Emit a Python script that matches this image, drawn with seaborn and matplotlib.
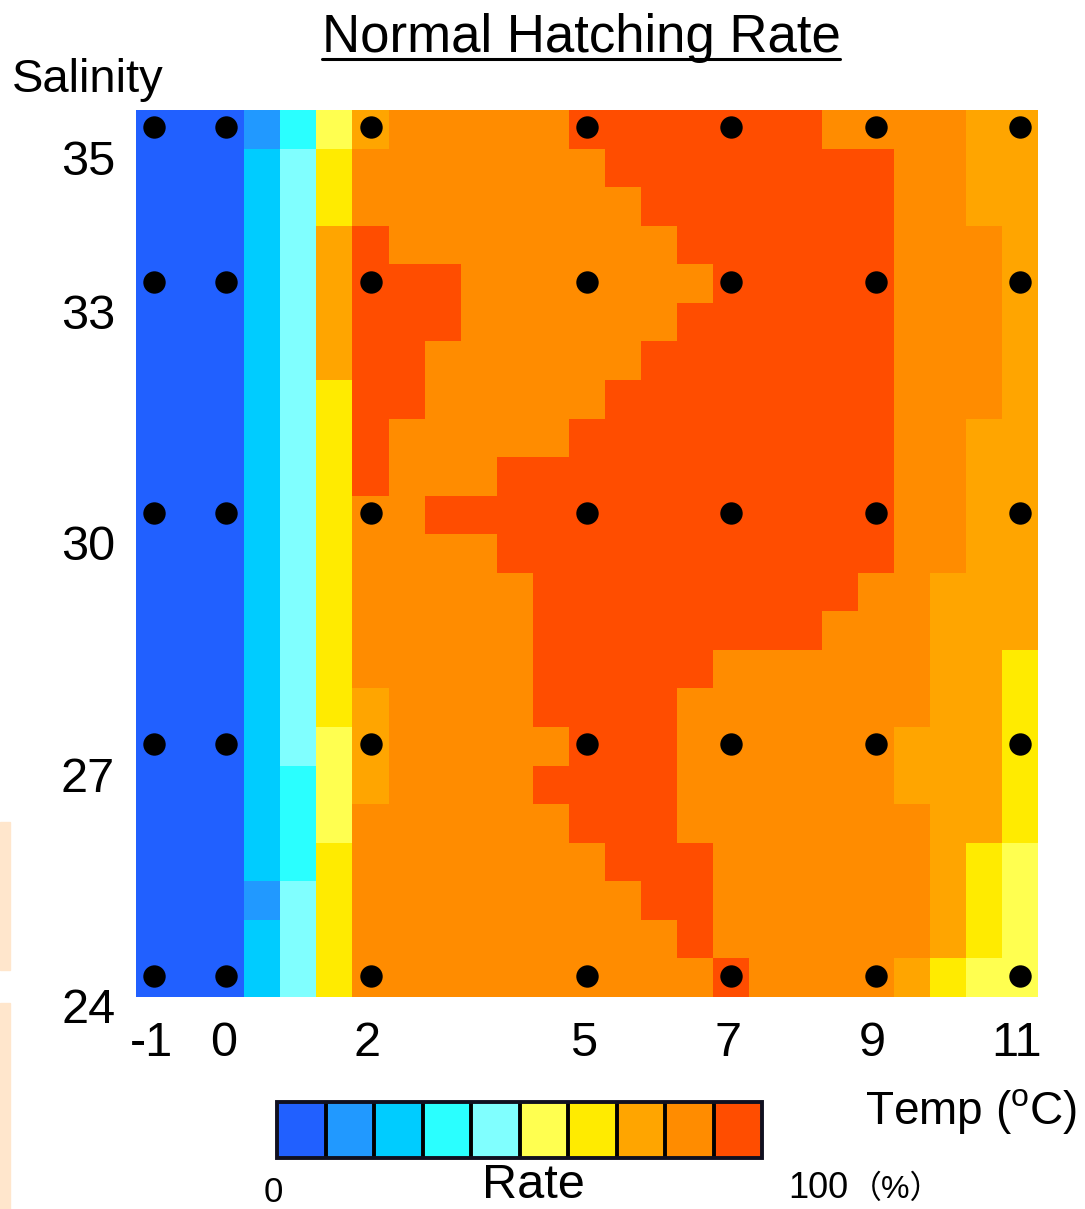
import numpy as np
import pandas as pd
import matplotlib
matplotlib.use("Agg")
import matplotlib.pyplot as plt
import seaborn as sns
from matplotlib.colors import ListedColormap, BoundaryNorm
from matplotlib import transforms
from matplotlib.lines import Line2D
from matplotlib.patches import Rectangle
import matplotlib.cm as cm

# ---------------- data ----------------
temperatures = [-1.0, -0.5, 0.0, 0.5, 1.0, 1.5, 2.0, 2.5, 3.0, 3.5, 4.0, 4.5, 5.0,
                5.5, 6.0, 6.5, 7.0, 7.5, 8.0, 8.5, 9.0, 9.5, 10.0, 10.5, 11.0]
salinities = [35.0, 34.5, 34.0, 33.5, 33.0, 32.5, 32.0, 31.5, 31.0, 30.5, 30.0, 29.5,
              29.0, 28.5, 28.0, 27.5, 27.0, 26.5, 26.0, 25.5, 25.0, 24.5, 24.0]

# rate class: 0 = 0-10 %, 1 = 10-20 %, ..., 9 = 90-100 %
rate_class = [
    [0, 0, 0, 1, 3, 5, 7, 8, 8, 8, 8, 8, 9, 9, 9, 9, 9, 9, 9, 8, 8, 8, 8, 7, 7],
    [0, 0, 0, 2, 4, 6, 8, 8, 8, 8, 8, 8, 8, 9, 9, 9, 9, 9, 9, 9, 9, 8, 8, 7, 7],
    [0, 0, 0, 2, 4, 6, 8, 8, 8, 8, 8, 8, 8, 8, 9, 9, 9, 9, 9, 9, 9, 8, 8, 7, 7],
    [0, 0, 0, 2, 4, 7, 9, 8, 8, 8, 8, 8, 8, 8, 8, 9, 9, 9, 9, 9, 9, 8, 8, 8, 7],
    [0, 0, 0, 2, 4, 7, 9, 9, 9, 8, 8, 8, 8, 8, 8, 8, 9, 9, 9, 9, 9, 8, 8, 8, 7],
    [0, 0, 0, 2, 4, 7, 9, 9, 9, 8, 8, 8, 8, 8, 8, 9, 9, 9, 9, 9, 9, 8, 8, 8, 7],
    [0, 0, 0, 2, 4, 7, 9, 9, 8, 8, 8, 8, 8, 8, 9, 9, 9, 9, 9, 9, 9, 8, 8, 8, 7],
    [0, 0, 0, 2, 4, 6, 9, 9, 8, 8, 8, 8, 8, 9, 9, 9, 9, 9, 9, 9, 9, 8, 8, 8, 7],
    [0, 0, 0, 2, 4, 6, 9, 8, 8, 8, 8, 8, 9, 9, 9, 9, 9, 9, 9, 9, 9, 8, 8, 7, 7],
    [0, 0, 0, 2, 4, 6, 9, 8, 8, 8, 9, 9, 9, 9, 9, 9, 9, 9, 9, 9, 9, 8, 8, 7, 7],
    [0, 0, 0, 2, 4, 6, 8, 8, 9, 9, 9, 9, 9, 9, 9, 9, 9, 9, 9, 9, 9, 8, 8, 7, 7],
    [0, 0, 0, 2, 4, 6, 8, 8, 8, 8, 9, 9, 9, 9, 9, 9, 9, 9, 9, 9, 9, 8, 8, 7, 7],
    [0, 0, 0, 2, 4, 6, 8, 8, 8, 8, 8, 9, 9, 9, 9, 9, 9, 9, 9, 9, 8, 8, 7, 7, 7],
    [0, 0, 0, 2, 4, 6, 8, 8, 8, 8, 8, 9, 9, 9, 9, 9, 9, 9, 9, 8, 8, 8, 7, 7, 7],
    [0, 0, 0, 2, 4, 6, 8, 8, 8, 8, 8, 9, 9, 9, 9, 9, 8, 8, 8, 8, 8, 8, 7, 7, 6],
    [0, 0, 0, 2, 4, 6, 7, 8, 8, 8, 8, 9, 9, 9, 9, 8, 8, 8, 8, 8, 8, 8, 7, 7, 6],
    [0, 0, 0, 2, 4, 5, 7, 8, 8, 8, 8, 8, 9, 9, 9, 8, 8, 8, 8, 8, 8, 7, 7, 7, 6],
    [0, 0, 0, 2, 3, 5, 7, 8, 8, 8, 8, 9, 9, 9, 9, 8, 8, 8, 8, 8, 8, 7, 7, 7, 6],
    [0, 0, 0, 2, 3, 5, 8, 8, 8, 8, 8, 8, 9, 9, 9, 8, 8, 8, 8, 8, 8, 8, 7, 7, 6],
    [0, 0, 0, 2, 3, 6, 8, 8, 8, 8, 8, 8, 8, 9, 9, 9, 8, 8, 8, 8, 8, 8, 7, 6, 5],
    [0, 0, 0, 1, 4, 6, 8, 8, 8, 8, 8, 8, 8, 8, 9, 9, 8, 8, 8, 8, 8, 8, 7, 6, 5],
    [0, 0, 0, 2, 4, 6, 8, 8, 8, 8, 8, 8, 8, 8, 8, 9, 8, 8, 8, 8, 8, 8, 7, 6, 5],
    [0, 0, 0, 2, 4, 6, 8, 8, 8, 8, 8, 8, 8, 8, 8, 8, 9, 8, 8, 8, 8, 7, 6, 5, 5],
]

sample_temps = [-1, 0, 2, 5, 7, 9, 11]
sample_sals = [35, 33, 30, 27, 24]
temp_ticks = [-1, 0, 2, 5, 7, 9, 11]
sal_ticks = [35, 33, 30, 27, 24]

level_colors = ["#2160FF", "#2199FF", "#00CCFF", "#2AFFFF", "#80FFFF",
                "#FFFF50", "#FFEB00", "#FFA500", "#FF8C00", "#FF4D00"]

title_text = "Normal Hatching Rate"
ylabel_text = "Salinity"
xlabel_text = r"Temp ($^{\mathrm{o}}$C)"

# ---------------- style ----------------
sns.set_style("white")
plt.rcParams['font.family'] = ['Liberation Sans', 'Noto Sans CJK JP', 'DejaVu Sans']
plt.rcParams['mathtext.fontset'] = 'custom'
plt.rcParams['mathtext.rm'] = 'Liberation Sans'
plt.rcParams['mathtext.it'] = 'Liberation Sans'
plt.rcParams['text.color'] = 'black'
plt.rcParams['xtick.color'] = 'black'
plt.rcParams['ytick.color'] = 'black'
plt.rcParams['axes.labelcolor'] = 'black'

W, H = 1085, 1209
fig = plt.figure(figsize=(W / 100, H / 100), dpi=100)
fig.patch.set_facecolor("white")

def fx(px):
    return px / W

def fy(py):
    return 1 - py / H

# main heatmap axes (pixel box: x 136-1038, y 110-997)
ax = fig.add_axes([fx(136), fy(997), fx(1038) - fx(136), fy(110) - fy(997)])

cmap = ListedColormap(level_colors)
df = pd.DataFrame(rate_class, index=salinities, columns=temperatures)
sns.heatmap(df, cmap=cmap, vmin=-0.5, vmax=9.5, cbar=False, ax=ax,
            xticklabels=False, yticklabels=False)

# sample points
pts_x, pts_y = [], []
for s in sample_sals:
    for t in sample_temps:
        pts_x.append(temperatures.index(t) + 0.5)
        pts_y.append(salinities.index(s) + 0.45)
sns.scatterplot(x=pts_x, y=pts_y, ax=ax, color="black", s=260, linewidth=0,
                legend=False, zorder=5)
ax.set_xlim(0, len(temperatures))
ax.set_ylim(len(salinities), 0)
ax.set_xlabel("")
ax.set_ylabel("")

ax.set_xticks([temperatures.index(t) + 0.5 for t in temp_ticks])
ax.set_xticklabels([f"{t:g}" for t in temp_ticks], fontsize=35, color="black")
ax.set_yticks([salinities.index(s) + 0.5 for s in sal_ticks])
ax.set_yticklabels([f"{s:g}" for s in sal_ticks], fontsize=35, rotation=0, color="black")
ax.tick_params(axis="x", length=0, pad=17)
ax.tick_params(axis="y", length=0, pad=15)
for sp in ax.spines.values():
    sp.set_visible(False)

offset = transforms.ScaledTranslation(0, -0.28, fig.dpi_scale_trans)
for lab in ax.get_yticklabels():
    lab.set_transform(lab.get_transform() + offset)
xoff = transforms.ScaledTranslation(-0.03, 0, fig.dpi_scale_trans)
for lab in ax.get_xticklabels():
    lab.set_transform(lab.get_transform() + xoff)

# texts
title = fig.text(fx(581), fy(52), title_text, fontsize=38, ha="center", va="baseline",
                 color="black")
fig.text(fx(12), fy(92), ylabel_text, fontsize=34, ha="left", va="baseline", color="black")
fig.text(fx(865), fy(1124), xlabel_text, fontsize=33, ha="left", va="baseline", color="black")

# colorbar
cax = fig.add_axes([fx(277), fy(1158), fx(762) - fx(277), fy(1102) - fy(1158)])
bnorm = BoundaryNorm(np.arange(-0.5, 10.5, 1), cmap.N)
sm = cm.ScalarMappable(cmap=cmap, norm=bnorm)
cb = fig.colorbar(sm, cax=cax, orientation="horizontal", drawedges=True)
cb.set_ticks([])
cb.minorticks_off()
cax.tick_params(which="both", length=0)
cb.outline.set_linewidth(2.8)
cb.outline.set_edgecolor("#101020")
cb.dividers.set_linewidth(2.8)
cb.dividers.set_color("black")

fig.text(fx(273), fy(1202), "0", fontsize=25, ha="center", va="baseline", color="black")
fig.text(fx(533), fy(1198), "Rate", fontsize=35, ha="center", va="baseline", color="black")
fig.text(fx(788), fy(1198), "100", fontsize=26, ha="left", va="baseline", color="black")
fig.text(fx(850), fy(1198), "（%）", fontsize=23, ha="left", va="baseline", color="black")

# peach artefacts at left edge
fig.patches.append(Rectangle((0, fy(970)), fx(10), fy(822) - fy(970),
                             transform=fig.transFigure, color="#FFE6CC", zorder=0))
fig.patches.append(Rectangle((0, 0), fx(10), fy(1003),
                             transform=fig.transFigure, color="#FFE6CC", zorder=0))

# underline title
fig.canvas.draw()
bb = title.get_window_extent(fig.canvas.get_renderer())
x0, x1 = bb.x0 / W, bb.x1 / W
ul_y = fy(59)
fig.lines.append(Line2D([x0, x1], [ul_y, ul_y], transform=fig.transFigure,
                        color="black", linewidth=2.2))

fig.savefig("out.png", dpi=100, facecolor="white")
